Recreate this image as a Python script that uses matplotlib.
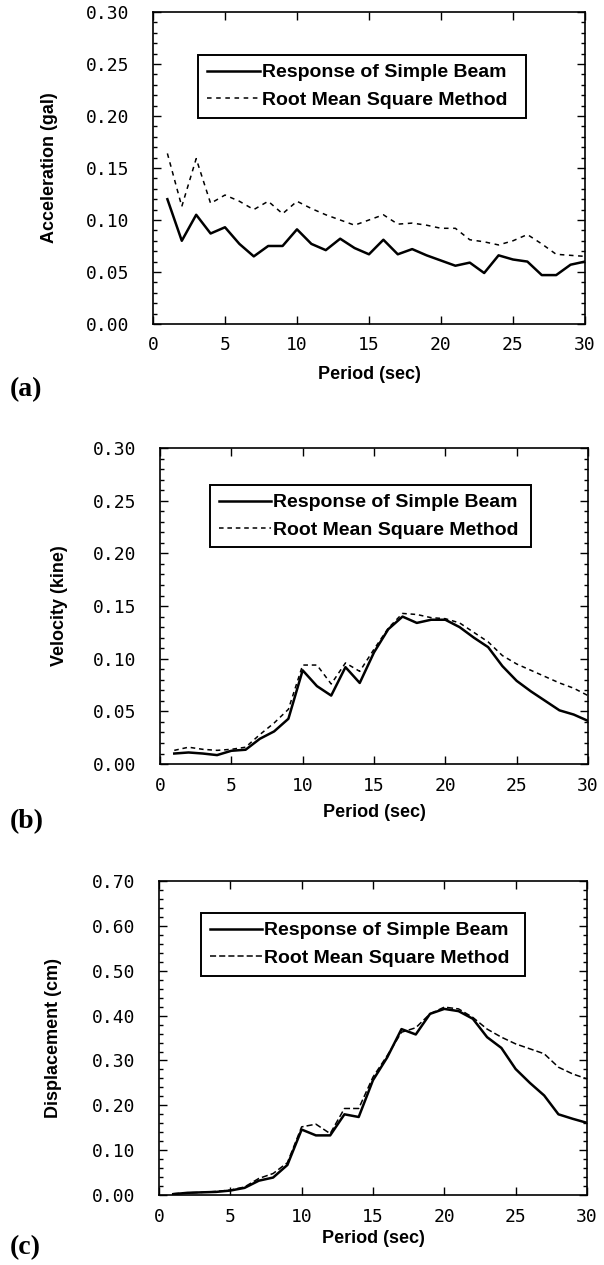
import numpy as np
import matplotlib
matplotlib.use("Agg")
import matplotlib.pyplot as plt
from matplotlib.ticker import MultipleLocator, FormatStrFormatter

period = list(range(1, 31))

# (a) acceleration
acc_beam = [0.120, 0.080, 0.105, 0.087, 0.093, 0.077, 0.065, 0.075, 0.075, 0.091,
            0.077, 0.071, 0.082, 0.073, 0.067, 0.081, 0.067, 0.072, 0.066, 0.061,
            0.056, 0.059, 0.049, 0.066, 0.062, 0.060, 0.047, 0.047, 0.057, 0.060]
acc_rms = [0.164, 0.113, 0.159, 0.116, 0.124, 0.118, 0.110, 0.118, 0.106, 0.118,
           0.111, 0.105, 0.100, 0.095, 0.100, 0.105, 0.096, 0.097, 0.095, 0.092,
           0.092, 0.081, 0.079, 0.076, 0.080, 0.086, 0.077, 0.067, 0.066, 0.065]

# (b) velocity
vel_beam = [0.010, 0.011, 0.010, 0.0085, 0.0126, 0.0136, 0.024, 0.031, 0.043, 0.089,
            0.074, 0.065, 0.092, 0.077, 0.106, 0.128, 0.140, 0.134, 0.137, 0.137,
            0.130, 0.120, 0.111, 0.093, 0.079, 0.069, 0.060, 0.051, 0.047, 0.041]
vel_rms = [0.013, 0.016, 0.014, 0.013, 0.014, 0.016, 0.028, 0.039, 0.052, 0.094,
           0.094, 0.076, 0.096, 0.088, 0.109, 0.129, 0.143, 0.142, 0.139, 0.138,
           0.134, 0.125, 0.116, 0.103, 0.095, 0.089, 0.083, 0.077, 0.072, 0.065]

# (c) displacement
dis_beam = [0.002, 0.005, 0.006, 0.007, 0.010, 0.016, 0.032, 0.039, 0.067, 0.146,
            0.133, 0.133, 0.180, 0.174, 0.256, 0.307, 0.370, 0.358, 0.404, 0.415,
            0.410, 0.393, 0.352, 0.328, 0.281, 0.250, 0.222, 0.180, 0.170, 0.161]
dis_rms = [0.003, 0.005, 0.006, 0.008, 0.011, 0.018, 0.037, 0.048, 0.072, 0.152,
           0.158, 0.137, 0.193, 0.193, 0.263, 0.311, 0.363, 0.373, 0.404, 0.419,
           0.415, 0.396, 0.370, 0.352, 0.337, 0.326, 0.315, 0.285, 0.270, 0.259]

labels = ["Response of Simple Beam", "Root Mean Square Method"]

mono = "DejaVu Sans Mono"
sans = "Liberation Sans"
serif = "Liberation Serif"

fig = plt.figure(figsize=(6.04, 12.65), dpi=100)

panels = [
    # rect, beam, rms, ylabel, ymax, ystep, yminor, rms style, legend (x0, x1, ytop), ylabel x, xlabel y, tag, tag y
    ([0.2533, 0.7439, 0.7152, 0.2466], acc_beam, acc_rms, "Acceleration (gal)", 0.30, 0.05, 0.01,
     (0, (3, 3)), (0.105, 0.863, 0.862), -0.22, -0.135, "(a)", 1 - 390 / 1265),
    ([0.2649, 0.3960, 0.7086, 0.2498], vel_beam, vel_rms, "Velocity (kine)", 0.30, 0.05, 0.01,
     (0, (3, 2.5)), (0.117, 0.867, 0.883), -0.215, -0.125, "(b)", 1 - 822 / 1265),
    ([0.2632, 0.0553, 0.7086, 0.2482], dis_beam, dis_rms, "Displacement (cm)", 0.70, 0.10, 0.02,
     (0, (4, 2)), (0.098, 0.855, 0.898), -0.227, -0.11, "(c)", 1 - 1248 / 1265),
]

for rect, beam, rms, ylab, ymax, ystep, yminor, ls, lbox, ylx, xly, tag, tagy in panels:
    ax = fig.add_axes(rect)
    ax.plot(period, beam, color="black", lw=1.8, label=labels[0])
    ax.plot(period, rms, color="black", lw=1.1, linestyle=ls, label=labels[1])
    ax.set_xlim(0, 30)
    ax.set_ylim(0, ymax)
    ax.xaxis.set_major_locator(MultipleLocator(5))
    ax.yaxis.set_major_locator(MultipleLocator(ystep))
    ax.yaxis.set_minor_locator(MultipleLocator(yminor))
    ax.yaxis.set_major_formatter(FormatStrFormatter("%.2f"))
    ax.tick_params(which="both", direction="in", top=True, right=True, width=1.0)
    ax.tick_params(which="major", length=6)
    ax.tick_params(which="minor", length=3)
    ax.tick_params(axis="x", which="major", pad=9)
    ax.tick_params(axis="y", which="major", pad=17)
    for t in ax.get_xticklabels() + ax.get_yticklabels():
        t.set_fontfamily(mono)
        t.set_fontsize(13)
    for s in ax.spines.values():
        s.set_linewidth(1.2)
    ax.set_xlabel("Period (sec)", fontfamily=sans, fontweight="bold", fontsize=13)
    ax.set_ylabel(ylab, fontfamily=sans, fontweight="bold", fontsize=13)
    ax.xaxis.set_label_coords(0.5, xly)
    ax.yaxis.set_label_coords(ylx, 0.5)
    x0, x1, ytop = lbox
    leg = ax.legend(loc="upper left", bbox_to_anchor=(x0, ytop - 0.3, x1 - x0, 0.3),
                    mode="expand", borderaxespad=0,
                    prop={"family": sans, "weight": "bold", "size": 14},
                    handlelength=2.7, handletextpad=0.1, borderpad=0.45,
                    labelspacing=0.5, fancybox=False, framealpha=1)
    leg.get_frame().set_edgecolor("black")
    leg.get_frame().set_linewidth(1.4)
    fig.text(10 / 604, tagy, tag, fontfamily=serif, fontweight="bold",
             fontsize=20, ha="left", va="center")

fig.savefig("out.png", dpi=100)
